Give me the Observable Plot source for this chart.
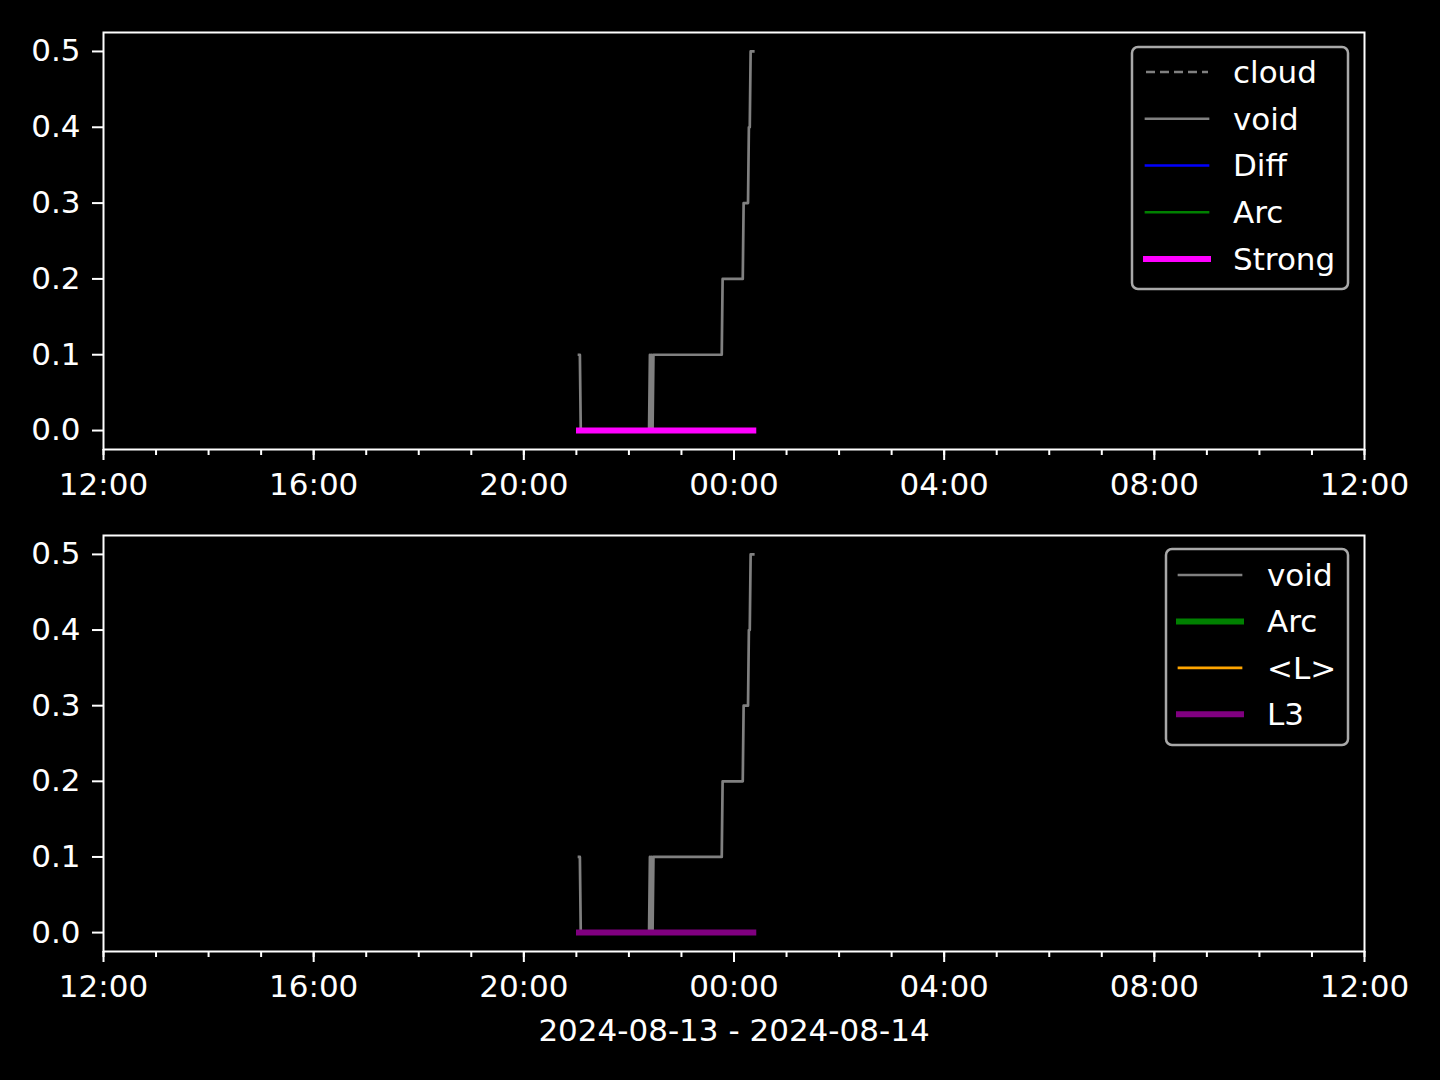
<!DOCTYPE html>
<html><head><meta charset="utf-8">
<script src="https://cdn.jsdelivr.net/npm/d3@7"></script>
<script src="https://cdn.jsdelivr.net/npm/@observablehq/plot@0.6"></script>
<style>
html,body{margin:0;padding:0;background:#000;}
#wrap{position:relative;width:1440px;height:1080px;background:#000;overflow:hidden;}
#wrap > svg, #wrap > figure{position:absolute;left:0;margin:0;}
</style></head><body><div id="wrap"></div>
<script>
// ---- data ----
const voidTimes = [
  "2024-08-13T21:03","2024-08-13T21:04","2024-08-13T21:05",
  "2024-08-13T22:23","2024-08-13T22:24","2024-08-13T22:25","2024-08-13T22:26","2024-08-13T22:27","2024-08-13T22:28",
  "2024-08-13T23:46","2024-08-13T23:47",
  "2024-08-14T00:10","2024-08-14T00:11",
  "2024-08-14T00:16","2024-08-14T00:17",
  "2024-08-14T00:18","2024-08-14T00:19",
  "2024-08-14T00:22"
];
const voidValues = [
  0.1, 0.1, 0.0,
  0.0, 0.1, 0.0, 0.1, 0.0, 0.1,
  0.1, 0.2,
  0.2, 0.3,
  0.3, 0.4,
  0.4, 0.5,
  0.5
];
const strongTimes = ["2024-08-13T21:03", "2024-08-14T00:22"];
const strongValues = [0.0, 0.0];
const l3Times = ["2024-08-13T21:03", "2024-08-14T00:22"];
const l3Values = [0.0, 0.0];

const xDomain = ["2024-08-13T12:00", "2024-08-14T12:00"];
const xTickTimes = ["2024-08-13T12:00","2024-08-13T16:00","2024-08-13T20:00","2024-08-14T00:00","2024-08-14T04:00","2024-08-14T08:00","2024-08-14T12:00"];
const xTickLabels = ["12:00","16:00","20:00","00:00","04:00","08:00","12:00"];
const yTicks = [0.0, 0.1, 0.2, 0.3, 0.4, 0.5];
const topLegendLabels = ["cloud", "void", "Diff", "Arc", "Strong"];
const bottomLegendLabels = ["void", "Arc", "<L>", "L3"];
const xAxisLabel = "2024-08-13 - 2024-08-14";

// ---- build ----
const utc = s => new Date(s + "Z");
const voidData = voidTimes.map((t, i) => ({t: utc(t), v: voidValues[i]}));
const strongData = strongTimes.map((t, i) => ({t: utc(t), v: strongValues[i]}));
const l3Data = l3Times.map((t, i) => ({t: utc(t), v: l3Values[i]}));
const majorTicks = xTickTimes.map(utc);
const minorTicks = d3.utcHour.range(utc(xDomain[0]), d3.utcHour.offset(utc(xDomain[1]), 1));
const FONT = "DejaVu Sans";
const FS = 31;

function panel(baseData, baseColor, height, marginBottom, extraMarks) {
  return Plot.plot({
    width: 1440, height,
    marginTop: 32, marginLeft: 103, marginRight: 76, marginBottom,
    style: {background: "black", color: "white", fontFamily: FONT, fontSize: FS + "px"},
    x: {type: "utc", domain: xDomain.map(utc)},
    y: {domain: [-0.025, 0.525]},
    marks: [
      Plot.axisX({ticks: minorTicks, tickSize: 6, tickFormat: () => "", strokeWidth: 2, label: null}),
      Plot.axisX({ticks: majorTicks, tickSize: 11, tickPadding: 12, strokeWidth: 2, label: null,
        tickFormat: (d, i) => xTickLabels[majorTicks.findIndex(m => +m === +d)]}),
      Plot.axisY({ticks: yTicks, tickSize: 11, tickPadding: 12, strokeWidth: 2, label: null,
        tickFormat: d3.format(".1f")}),
      Plot.line(voidData, {x: "t", y: "v", stroke: "#808080", strokeWidth: 2.7, strokeLinecap: "square", strokeLinejoin: "round"}),
      Plot.line(baseData, {x: "t", y: "v", stroke: baseColor, strokeWidth: 6, strokeLinecap: "square"}),
      Plot.frame({stroke: "white", strokeWidth: 2}),
      ...extraMarks
    ]
  });
}

const wrap = document.getElementById("wrap");
const top1 = panel(strongData, "#ff00ff", 503, 54, []);
top1.style.top = "0px";
wrap.appendChild(top1);
const bot = panel(l3Data, "#800080", 577, 129, [
  Plot.text([xAxisLabel], {frameAnchor: "bottom", dy: 80, fill: "white", fontSize: FS, lineAnchor: "middle"})
]);
bot.style.top = "503px";
wrap.appendChild(bot);

// ---- legends ----
const overlay = d3.select(wrap).append("svg")
  .attr("width", 1440).attr("height", 1080)
  .style("position", "absolute").style("top", "0px").style("left", "0px");

function legend(box, rows, labels, styles) {
  const g = overlay.append("g");
  g.append("rect").attr("x", box.x).attr("y", box.y).attr("width", box.w).attr("height", box.h)
    .attr("rx", 6).attr("fill", "black").attr("stroke", "#a8a8a8").attr("stroke-width", 2.5);
  labels.forEach((lab, i) => {
    const s = styles[i];
    const y = rows.y0 + i * rows.dy;
    g.append("line").attr("x1", rows.x1).attr("x2", rows.x2).attr("y1", y).attr("y2", y)
      .attr("stroke", s.c).attr("stroke-width", s.w).attr("stroke-dasharray", s.d || null)
      .attr("stroke-linecap", s.d ? "butt" : "square");
    g.append("text").attr("x", rows.tx).attr("y", y).attr("dy", "0.35em")
      .attr("fill", "white").attr("font-family", FONT).attr("font-size", FS).text(lab);
  });
}
legend({x: 1132, y: 47, w: 216, h: 242}, {y0: 72, dy: 46.75, x1: 1146, x2: 1208, tx: 1233},
  topLegendLabels,
  [{c: "#808080", w: 2.5, d: "9,5"}, {c: "#808080", w: 2.7}, {c: "#0000ff", w: 2.7}, {c: "#008000", w: 2.7}, {c: "#ff00ff", w: 6}]);
legend({x: 1166, y: 549, w: 182, h: 196}, {y0: 575, dy: 46.4, x1: 1179, x2: 1241, tx: 1267},
  bottomLegendLabels,
  [{c: "#808080", w: 2.7}, {c: "#008000", w: 6}, {c: "#ffa500", w: 2.7}, {c: "#800080", w: 6}]);
</script></body></html>
